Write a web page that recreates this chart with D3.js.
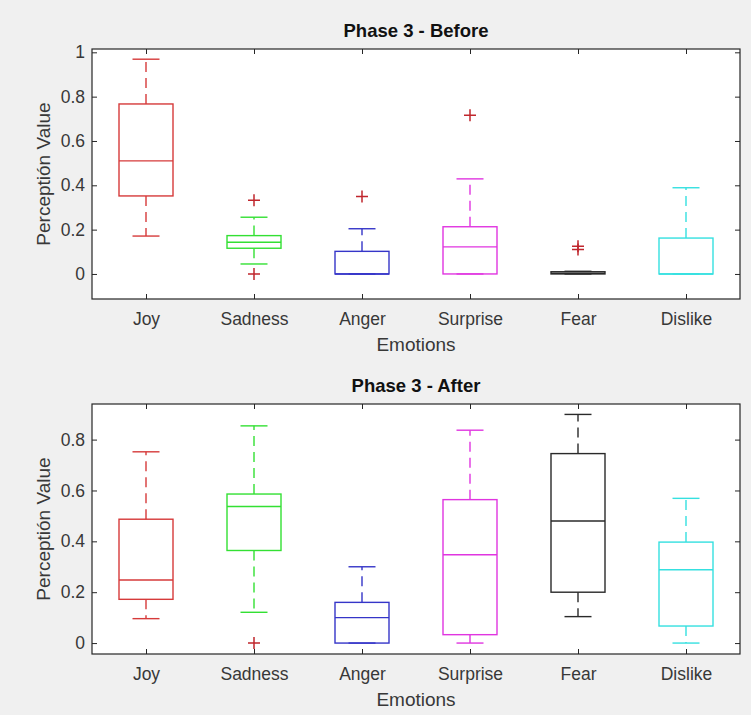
<!DOCTYPE html>
<html>
<head>
<meta charset="utf-8">
<script src="https://cdn.jsdelivr.net/npm/d3@7"></script>
<style>
body{margin:0;background:#f0f0f0;}
text{font-family:"Liberation Sans",Arial,sans-serif;}
</style>
</head>
<body>
<svg id="drawing_region"></svg>
<script>
const emotions = ["Joy","Sadness","Anger","Surprise","Fear","Dislike"]

// Phase 3 - Before
const before_low = [0.171,0.045,0,0,0,0]
const before_q1 = [0.352,0.116,0,0,0,0]
const before_median = [0.51,0.143,0,0.122,0.003,0]
const before_q3 = [0.767,0.173,0.102,0.213,0.01,0.162]
const before_high = [0.969,0.256,0.204,0.429,0.012,0.389]
const before_outliers = [[],[0.332,0],[0.349],[0.716],[0.125,0.11],[]]
const before_ticks = [0,0.2,0.4,0.6,0.8,1]

// Phase 3 - After
const after_low = [0.096,0.121,0,0,0.104,0]
const after_q1 = [0.172,0.364,0,0.033,0.2,0.067]
const after_median = [0.248,0.537,0.1,0.347,0.48,0.288]
const after_q3 = [0.487,0.586,0.16,0.564,0.745,0.397]
const after_high = [0.752,0.854,0.3,0.837,0.899,0.569]
const after_outliers = [[],[0],[],[],[],[]]
const after_ticks = [0,0.2,0.4,0.6,0.8]

const box_colors = ["#d63a3a","#33e033","#3535c8","#e035e0","#2a2a2a","#35e0e0"]

const svg = d3.select("#drawing_region")
    .attr("width",751)
    .attr("height",715)

function make_rows(low,q1,median,q3,high,outliers){
    return emotions.map((e,i)=>({
        name:e, low:low[i], q1:q1[i], median:median[i], q3:q3[i], high:high[i], outliers:outliers[i]
    }))
}

class Box_chart{
    constructor(config,data){
        this.config = config
        this.data = data
        this.init()
    }
    init(){
        let self = this
        const c = self.config
        self.chart = svg.append("g")
            .attr("transform",`translate(${c.left},${c.top})`)
        self.inner_width = c.right-c.left
        self.inner_height = c.bottom-c.top

        self.xscale = d3.scalePoint()
            .domain(emotions)
            .range([0,self.inner_width])
            .padding(0.5)
        self.yscale = d3.scaleLinear()
            .domain(c.ydomain)
            .range([self.inner_height,0])

        self.chart.append("rect")
            .attr("width",self.inner_width)
            .attr("height",self.inner_height)
            .attr("fill","#fff")
    }
    render(){
        let self = this
        const c = self.config
        const x = self.xscale, y = self.yscale
        const half = x.step()*0.25
        const cap = half*0.5

        const boxes = self.chart.selectAll(".box")
            .data(self.data)
            .join("g")
            .attr("class","box")
            .attr("transform",d=>`translate(${x(d.name)},0)`)
            .attr("stroke",(d,i)=>box_colors[i])
            .attr("stroke-width",1.4)
            .attr("fill","none")

        // whiskers
        boxes.append("line")
            .attr("y1",d=>y(d.q3)).attr("y2",d=>y(d.high))
            .attr("stroke-dasharray","10,6")
        boxes.append("line")
            .attr("y1",d=>y(d.q1)).attr("y2",d=>y(d.low))
            .attr("stroke-dasharray","10,6")
        boxes.append("line")
            .attr("x1",-cap).attr("x2",cap)
            .attr("y1",d=>y(d.high)).attr("y2",d=>y(d.high))
        boxes.append("line")
            .attr("x1",-cap).attr("x2",cap)
            .attr("y1",d=>y(d.low)).attr("y2",d=>y(d.low))

        boxes.append("rect")
            .attr("x",-half)
            .attr("width",half*2)
            .attr("y",d=>y(d.q3))
            .attr("height",d=>Math.max(y(d.q1)-y(d.q3),1))
        boxes.append("line")
            .attr("x1",-half).attr("x2",half)
            .attr("y1",d=>y(d.median)).attr("y2",d=>y(d.median))

        boxes.selectAll(".out")
            .data(d=>d.outliers)
            .join("path")
            .attr("class","out")
            .attr("d",v=>`M-6,${y(v)}H6M0,${y(v)-6}V${y(v)+6}`)
            .attr("stroke","#c0262d")
            .attr("stroke-width",1.5)

        // axes, MATLAB style ticks pointing inward
        const tick_style = g=>{
            g.select(".domain").remove()
            g.selectAll("line").attr("stroke","#262626")
            g.selectAll("text").attr("fill","#383838").attr("font-size","17.5px")
        }
        self.chart.append("g")
            .call(d3.axisLeft(y).tickValues(c.ticks).tickSize(-5).tickPadding(7).tickFormat(d3.format("")))
            .call(tick_style)
        self.chart.append("g")
            .attr("transform",`translate(${self.inner_width},0)`)
            .call(d3.axisRight(y).tickValues(c.ticks).tickSize(-5).tickFormat(""))
            .call(tick_style)
        self.chart.append("g")
            .attr("transform",`translate(0,${self.inner_height})`)
            .call(d3.axisBottom(x).tickSize(-5).tickPadding(14))
            .call(tick_style)
        self.chart.append("g")
            .call(d3.axisTop(x).tickSize(-5).tickFormat(""))
            .call(tick_style)

        self.chart.append("rect")
            .attr("width",self.inner_width)
            .attr("height",self.inner_height)
            .attr("fill","none")
            .attr("stroke","#262626")
            .attr("stroke-width",1.2)

        self.chart.append("text")
            .attr("x",self.inner_width/2)
            .attr("y",-12)
            .attr("text-anchor","middle")
            .attr("font-size","18.5px")
            .attr("font-weight","bold")
            .attr("fill","#111")
            .text(c.title)
        self.chart.append("text")
            .attr("x",self.inner_width/2)
            .attr("y",self.inner_height+52)
            .attr("text-anchor","middle")
            .attr("font-size","19px")
            .attr("fill","#383838")
            .text("Emotions")
        self.chart.append("text")
            .attr("transform",`translate(${50-c.left},${self.inner_height/2}) rotate(-90)`)
            .attr("text-anchor","middle")
            .attr("font-size","19px")
            .attr("fill","#383838")
            .text("Perceptión Value")
    }
}

const before_chart = new Box_chart({
    title:"Phase 3 - Before", left:92, right:740, top:49, bottom:299,
    ydomain:[-0.113,1.015], ticks:before_ticks
}, make_rows(before_low,before_q1,before_median,before_q3,before_high,before_outliers))
before_chart.render()

const after_chart = new Box_chart({
    title:"Phase 3 - After", left:92, right:740, top:404, bottom:654,
    ydomain:[-0.043,0.94], ticks:after_ticks
}, make_rows(after_low,after_q1,after_median,after_q3,after_high,after_outliers))
after_chart.render()
</script>
</body>
</html>
